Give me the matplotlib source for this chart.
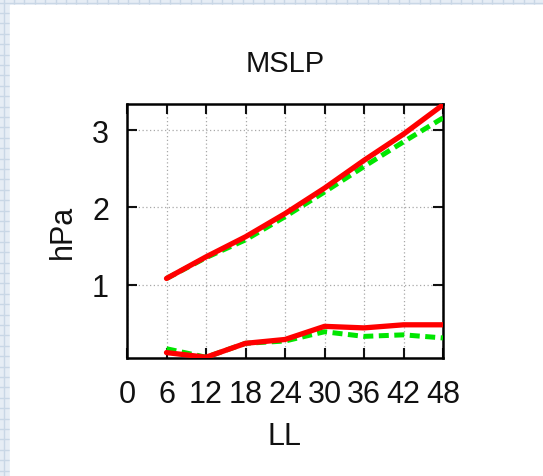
import numpy as np
import matplotlib.pyplot as plt
from matplotlib.patches import Rectangle

# forecast lead times (h) and MSLP scores (hPa)
lead = [6, 12, 18, 24, 30, 36, 42, 48]
rms_a = [1.08, 1.36, 1.62, 1.92, 2.25, 2.61, 2.95, 3.33]
rms_b = [1.08, 1.35, 1.58, 1.88, 2.20, 2.53, 2.85, 3.16]
bias_a = [0.12, 0.06, 0.24, 0.29, 0.46, 0.44, 0.48, 0.48]
bias_b = [0.17, 0.06, 0.24, 0.27, 0.39, 0.33, 0.35, 0.31]

xticks = [0, 6, 12, 18, 24, 30, 36, 42, 48]
yticks = [1, 2, 3]

W, H = 543, 477
plt.rcParams['font.family'] = ['Liberation Sans', 'DejaVu Sans']

fig = plt.figure(figsize=(W / 100, H / 100), dpi=100)

# page background: light blue squared paper with a white sheet on top
bg = fig.add_axes([0, 0, 1, 1])
bg.set_xlim(0, W)
bg.set_ylim(H, 0)
bg.axis('off')
bg.add_patch(Rectangle((0, 0), W, H, color='#e6edf5', zorder=0))
for p in np.arange(3.5, W, 10.4):
    bg.axvline(p, color='#c9d7e6', lw=1.0, zorder=1)
for p in np.arange(3.5, H, 10.4):
    bg.axhline(p, color='#c9d7e6', lw=1.0, zorder=1)
bg.add_patch(Rectangle((10, 6), W, H, color='white', zorder=2))

ax = fig.add_axes([127 / W, 1 - 359 / H, (443 - 127) / W, (359 - 105) / H])
ax.set_facecolor('white')

ax.plot(lead, rms_b, color='#00e600', lw=3.6, dashes=(2.0, 1.1), zorder=3)
ax.plot(lead, bias_b, color='#00e600', lw=3.6, dashes=(2.0, 1.1), zorder=3)
ax.plot(lead, rms_a, color='#ff0000', lw=3.8, zorder=4, solid_capstyle='round')
ax.plot(lead, bias_a, color='#ff0000', lw=3.8, zorder=4, solid_capstyle='round')

ax.set_xlim(0, 48)
ax.set_ylim(0.05, 3.34)
ax.set_xticks(xticks)
ax.set_yticks(yticks)
ax.tick_params(direction='in', length=7, width=1.5, top=True, right=True,
               labelsize=22, pad=13, colors='#111111')
ax.tick_params(axis='x', pad=15)
ax.grid(True, color='#a8a8a8', lw=0.9, ls=(0, (1, 2)))
for s in ax.spines.values():
    s.set_linewidth(1.8)

ax.set_title('MSLP', fontsize=21, pad=24, color='#111111')
ax.set_xlabel('LL', fontsize=22, labelpad=9, color='#111111')
ax.set_ylabel('hPa', fontsize=22, labelpad=10, color='#111111')

fig.savefig('out.png', dpi=100)
